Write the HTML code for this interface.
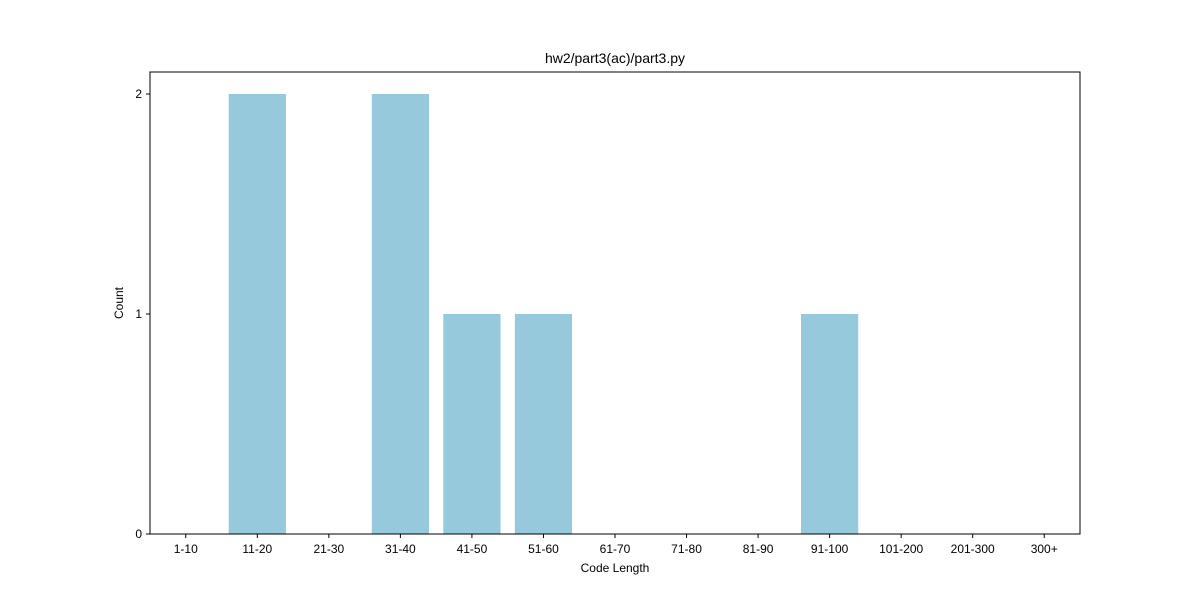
<!DOCTYPE html>
<html><head><meta charset="utf-8"><style>
body{margin:0;background:#fff;}
svg text{font-family:"Liberation Sans",sans-serif;fill:#000;}
</style></head><body>
<svg id="chart" width="1200" height="600">
<rect width="1200" height="600" fill="#fff"/>
<text x="615" y="63" font-size="14" text-anchor="middle">hw2/part3(ac)/part3.py</text>
<g id="bars"></g>
<g id="xticks"></g>
<g id="yticks"></g>
<rect x="150" y="72" width="930" height="462" fill="none" stroke="#000" stroke-width="1"/>
<text x="615" y="572" font-size="12" text-anchor="middle">Code Length</text>
<text x="123" y="303" font-size="12" text-anchor="middle" transform="rotate(-90 123 303)">Count</text>
</svg>
<script>
const categories=["1-10","11-20","21-30","31-40","41-50","51-60","61-70","71-80","81-90","91-100","101-200","201-300","300+"];
const counts=[0,2,0,2,1,1,0,0,0,1,0,0,0];
const yTicks=[0,1,2];
const NS="http://www.w3.org/2000/svg";
const L=150,R=1080,T=72,B=534,yMax=2.1;
const slot=(R-L)/categories.length;
const xc=i=>L+slot*(i+0.5);
const y=v=>B-(v/yMax)*(B-T);
const bars=document.getElementById('bars'),xt=document.getElementById('xticks'),yt=document.getElementById('yticks');
function mk(t,a){const e=document.createElementNS(NS,t);for(const k in a)e.setAttribute(k,a[k]);return e;}
categories.forEach((c,i)=>{
  const w=slot*0.8;
  if(counts[i]>0){
    const r=mk('rect',{x:xc(i)-w/2,y:y(counts[i]),width:w,height:B-y(counts[i]),fill:'#96c9dc'});
    
    
    bars.appendChild(r);
  }
  const tk=mk('line',{x1:xc(i),x2:xc(i),y1:B,y2:B+4,stroke:'#000'});
  
  
  xt.appendChild(tk);
  const t=mk('text',{x:xc(i),y:B+19,'font-size':12,'text-anchor':'middle'});
  t.textContent=c;
  
  
  xt.appendChild(t);
});
yTicks.forEach(v=>{
  const tk=mk('line',{x1:L-4,x2:L,y1:y(v),y2:y(v),stroke:'#000'});
  
  
  yt.appendChild(tk);
  const t=mk('text',{x:L-8,y:y(v)+4,'font-size':12,'text-anchor':'end'});
  t.textContent=v;
  
  
  yt.appendChild(t);
});
</script>
</body></html>
